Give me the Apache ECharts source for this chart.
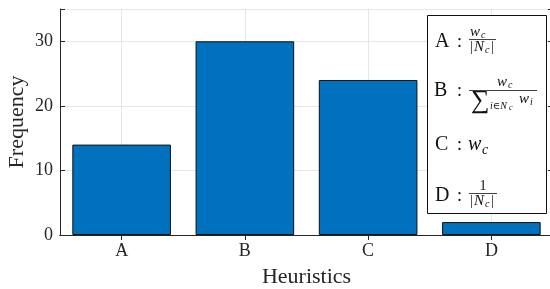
<!DOCTYPE html>
<html><head><meta charset="utf-8">
<script src="https://cdn.jsdelivr.net/npm/echarts@6/dist/echarts.min.js"></script>
<style>html,body{margin:0;padding:0;background:#fff}#c{width:550px;height:289px}</style>
</head><body><div id="c"></div>
<script>
var categories = ['A', 'B', 'C', 'D'];
var frequency = [14, 30, 24, 2];
var yTicks = [0, 10, 20, 30];

var F = '"Liberation Serif", "DejaVu Serif", serif';
var chart = echarts.init(document.getElementById('c'));

function T(x, y, s, size, opt) {
  opt = opt || {};
  return { type: 'text', x: x, y: y, z: 20,
    style: { text: s, fontFamily: F, fontSize: size, fill: '#111',
      fontStyle: opt.italic ? 'italic' : 'normal',
      align: opt.align || 'left', verticalAlign: 'middle' } };
}
function L(x1, x2, y) {
  return { type: 'line', z: 20, shape: { x1: x1, y1: y, x2: x2, y2: y }, style: { stroke: '#111', lineWidth: 0.8 } };
}
var g = [
  { type: 'rect', z: 15, shape: { x: 427.5, y: 15.5, width: 119, height: 198 }, style: { fill: '#fff', stroke: '#111', lineWidth: 1 } },
  // A
  T(435, 42, 'A', 20), T(457, 42, ':', 18),
  T(470, 32, 'w', 15, {italic: true}), T(481, 35, 'c', 10, {italic: true}),
  L(469, 496, 39.5),
  T(470, 47, '|', 14), T(474, 47, 'N', 15, {italic: true}), T(485, 50, 'c', 10, {italic: true}), T(491, 47, '|', 14),
  // B
  T(434, 91, 'B', 20), T(457, 91, ':', 18),
  T(497, 82, 'w', 15, {italic: true}), T(508, 85, 'c', 10, {italic: true}),
  L(469, 537, 90.5),
  T(471, 101, '\u2211', 26), T(490, 106, 'i\u2208N', 10, {italic: true}), T(509, 108, 'c', 8, {italic: true}),
  T(519, 99, 'w', 15, {italic: true}), T(530, 102, 'i', 10, {italic: true}),
  // C
  T(435, 145, 'C', 20), T(457, 145, ':', 18),
  T(468, 145, 'w', 20, {italic: true}), T(482, 150, 'c', 14, {italic: true}),
  // D
  T(435, 196, 'D', 20), T(457, 196, ':', 18),
  T(483, 186, '1', 14, {align: 'center'}),
  L(469, 497, 193.5),
  T(470, 201, '|', 14), T(474, 201, 'N', 15, {italic: true}), T(485, 204, 'c', 10, {italic: true}), T(491, 201, '|', 14)
];

var axLine = { show: true, lineStyle: { color: '#262626', width: 1 } };
var gridLine = { show: true, lineStyle: { color: '#e0e0e0', width: 0.8 } };
var tick = { show: true, inside: true, length: 5, lineStyle: { color: '#262626' } };
chart.setOption({
  animation: false,
  grid: { left: 60, right: -3, top: 9, bottom: 54, containLabel: false, outerBoundsMode: 'none' },
  xAxis: [{
    type: 'category', data: categories, position: 'bottom',
    axisLine: axLine,
    axisTick: Object.assign({ alignWithLabel: true }, tick),
    splitLine: Object.assign({ alignWithLabel: true }, gridLine),
    axisLabel: { fontFamily: F, fontSize: 18, color: '#262626', margin: 7 },
    name: 'Heuristics', nameLocation: 'middle', nameGap: 31, nameMoveOverlap: false,
    nameTextStyle: { fontFamily: F, fontSize: 22, color: '#262626' }
  }, {
    type: 'category', data: categories, position: 'top',
    axisLine: axLine,
    axisTick: Object.assign({ alignWithLabel: true }, tick),
    axisLabel: { show: false }, splitLine: { show: false }
  }],
  yAxis: [{
    type: 'value', min: 0, max: 35, interval: 10, position: 'left',
    axisLine: axLine,
    axisTick: tick,
    splitLine: gridLine,
    axisLabel: { fontFamily: F, fontSize: 18, color: '#262626', margin: 7,
      formatter: function (v) { return yTicks.indexOf(v) >= 0 ? String(v) : ''; } },
    name: 'Frequency', nameLocation: 'middle', nameGap: 32, nameMoveOverlap: false,
    nameTextStyle: { fontFamily: F, fontSize: 22, color: '#262626' }
  }, {
    type: 'value', min: 0, max: 35, interval: 10, position: 'right',
    axisLine: axLine,
    axisTick: tick,
    axisLabel: { show: false }, splitLine: { show: false }
  }],
  series: [{
    type: 'bar', data: frequency, xAxisIndex: 0, yAxisIndex: 0,
    barCategoryGap: '20%',
    itemStyle: { color: '#0072BD', borderColor: '#111', borderWidth: 1 }
  }],
  graphic: g
});
</script></body></html>
